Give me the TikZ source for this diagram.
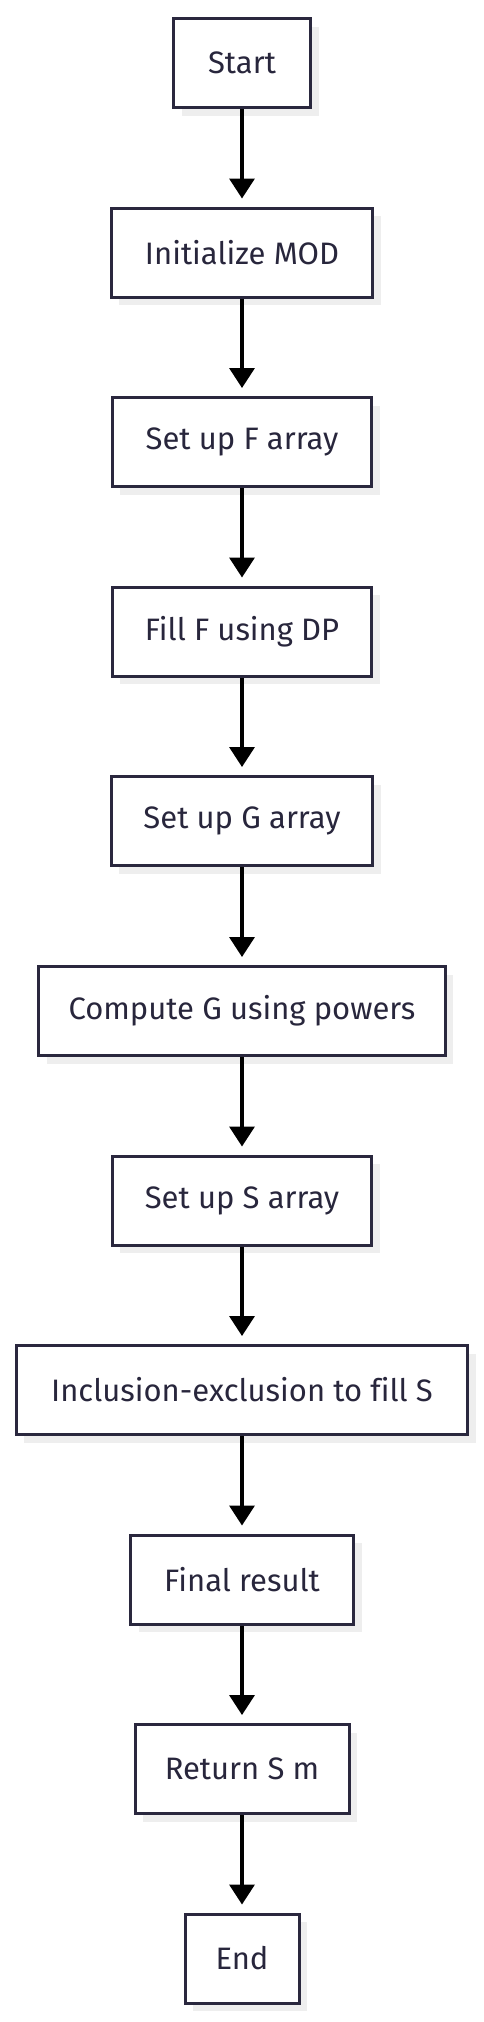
\documentclass[tikz,border=0pt]{standalone}
\usepackage{fontspec}
\setmainfont{Fira Sans}[Ligatures=NoCommon]
\usepackage{xcolor}
\usepackage{tikz}
\usetikzlibrary{arrows.meta,shadows}

\definecolor{boxline}{RGB}{42,40,62}
\definecolor{boxtext}{RGB}{40,38,60}
\definecolor{shadowgray}{RGB}{238,238,238}

\tikzset{
  stepbox/.style={draw=boxline, line width=3bp, fill=white, inner sep=0pt,
    minimum height=89bp, text=boxtext, font=\fontsize{31bp}{36bp}\selectfont,
    drop shadow={shadow xshift=8bp, shadow yshift=-8bp, fill=shadowgray, opacity=1}},
  flow/.style={line width=3.5bp, -{Triangle[width=25bp,length=20bp]}, shorten >=8bp}
}

\begin{document}
\begin{tikzpicture}[x=1bp,y=-1bp]
\useasboundingbox (0,0) rectangle (484,2022);
\node[stepbox, minimum width=137bp] (start) at (242,63){Start};
\node[stepbox, minimum width=261bp] (mod) at (242,252.5){Initialize MOD};
\node[stepbox, minimum width=259bp] (farr) at (242,442){Set up F array};
\node[stepbox, minimum width=259bp] (fdp) at (242,631.5){Fill F using DP};
\node[stepbox, minimum width=261bp] (garr) at (242,821){Set up G array};
\node[stepbox, minimum width=406bp] (gpow) at (242,1011){Compute G using powers};
\node[stepbox, minimum width=259bp] (sarr) at (242,1200.5){Set up S array};
\node[stepbox, minimum width=451bp] (incl) at (242,1390){Inclusion-exclusion to fill S};
\node[stepbox, minimum width=223bp] (final) at (242,1579.5){Final result};
\node[stepbox, minimum width=214bp] (ret) at (242,1769){Return S m};
\node[stepbox, minimum width=114bp] (end) at (242,1958.5){End};
% arrows down the chain
\draw[flow] (start) -- (mod);
\draw[flow] (mod) -- (farr);
\draw[flow] (farr) -- (fdp);
\draw[flow] (fdp) -- (garr);
\draw[flow] (garr) -- (gpow);
\draw[flow] (gpow) -- (sarr);
\draw[flow] (sarr) -- (incl);
\draw[flow] (incl) -- (final);
\draw[flow] (final) -- (ret);
\draw[flow] (ret) -- (end);
\end{tikzpicture}
\end{document}
